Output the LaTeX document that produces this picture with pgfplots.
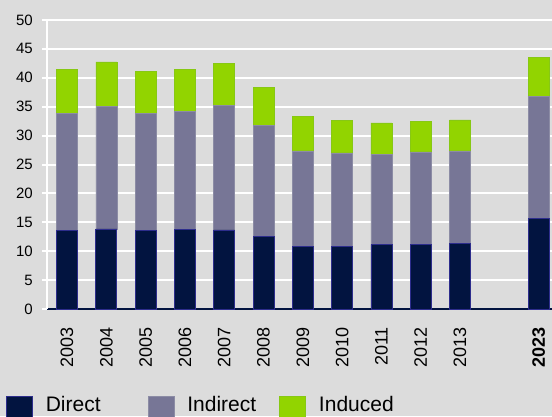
\documentclass[border=0pt]{standalone}
\usepackage{pgfplots}
\pgfplotsset{compat=1.18}
\usepackage{fontspec}
\setmainfont{Liberation Sans}

\definecolor{bgg}{RGB}{220,220,220}
\definecolor{direct}{RGB}{2,20,64}
\definecolor{directedge}{RGB}{45,45,140}
\definecolor{indirect}{RGB}{119,118,150}
\definecolor{indirectedge}{RGB}{140,140,165}
\definecolor{induced}{RGB}{146,212,0}
\definecolor{inducededge}{RGB}{135,200,20}

\begin{document}
\begin{tikzpicture}
\fill[bgg] (0,0) rectangle (552pt,416pt);
\useasboundingbox (0,0) rectangle (552pt,416pt);
\clip (0,0) rectangle (552pt,416pt);
\begin{axis}[
  at={(47pt,107pt)}, anchor=south west,
  scale only axis, width=505pt, height=289pt,
  xmin=-0.51, xmax=12.34, ymin=0, ymax=50,
  ybar stacked, bar width=21pt,
  axis x line=bottom, axis y line=left,
  x axis line style={-, draw=direct, line width=2pt},
  y axis line style={-, draw=white, line width=2pt},
  xtick={0,1,2,3,4,5,6,7,8,9,10,12},
  xticklabels={2003,2004,2005,2006,2007,2008,2009,2010,2011,2012,2013,\textbf{2023}},
  xtick style={draw=none},
  xticklabel style={rotate=90, anchor=east, inner sep=0pt, font=\fontsize{18}{20}\selectfont},
  xticklabel shift=13pt,
  ytick={0,5,...,50},
  ytick style={draw=white, line width=2pt},
  tick align=outside, major tick length=5pt,
  yticklabel style={inner sep=0pt, font=\fontsize{15}{18}\selectfont},
  yticklabel shift=9pt,
  /pgf/number format/assume math mode=true,
  ymajorgrids, grid style={white, line width=2pt},
  legend columns=3,
  legend style={at={(-0.0812,-0.301)}, anchor=north west, draw=none, fill=none,
    inner sep=0pt, outer sep=0pt, font=\fontsize{21}{24}\selectfont,
    nodes={inner sep=0pt},
    /tikz/every odd column/.append style={column sep=13pt}},
  legend image code/.code={\fill[#1] (0pt,-18pt) rectangle (26pt,8pt);},
]
\addplot[fill=direct, draw=directedge, line width=0.8pt] coordinates {
  (0,13.56) (1,13.85) (2,13.56) (3,13.73) (4,13.67) (5,12.51)
  (6,10.78) (7,10.89) (8,11.12) (9,11.24) (10,11.36) (12,15.59)};
\addplot[fill=indirect, draw=indirectedge, line width=0.6pt] coordinates {
  (0,20.34) (1,21.20) (2,20.22) (3,20.51) (4,21.50) (5,19.24)
  (6,16.57) (7,16.11) (8,15.65) (9,15.93) (10,15.99) (12,21.20)};
\addplot[fill=induced, draw=inducededge, line width=0.6pt] coordinates {
  (0,7.50) (1,7.71) (2,7.30) (3,7.19) (4,7.36) (5,6.55)
  (6,5.91) (7,5.62) (8,5.44) (9,5.33) (10,5.38) (12,6.78)};
\legend{\makebox[102pt][l]{Direct},\makebox[92pt][l]{Indirect},Induced}
\end{axis}
\end{tikzpicture}
\end{document}
